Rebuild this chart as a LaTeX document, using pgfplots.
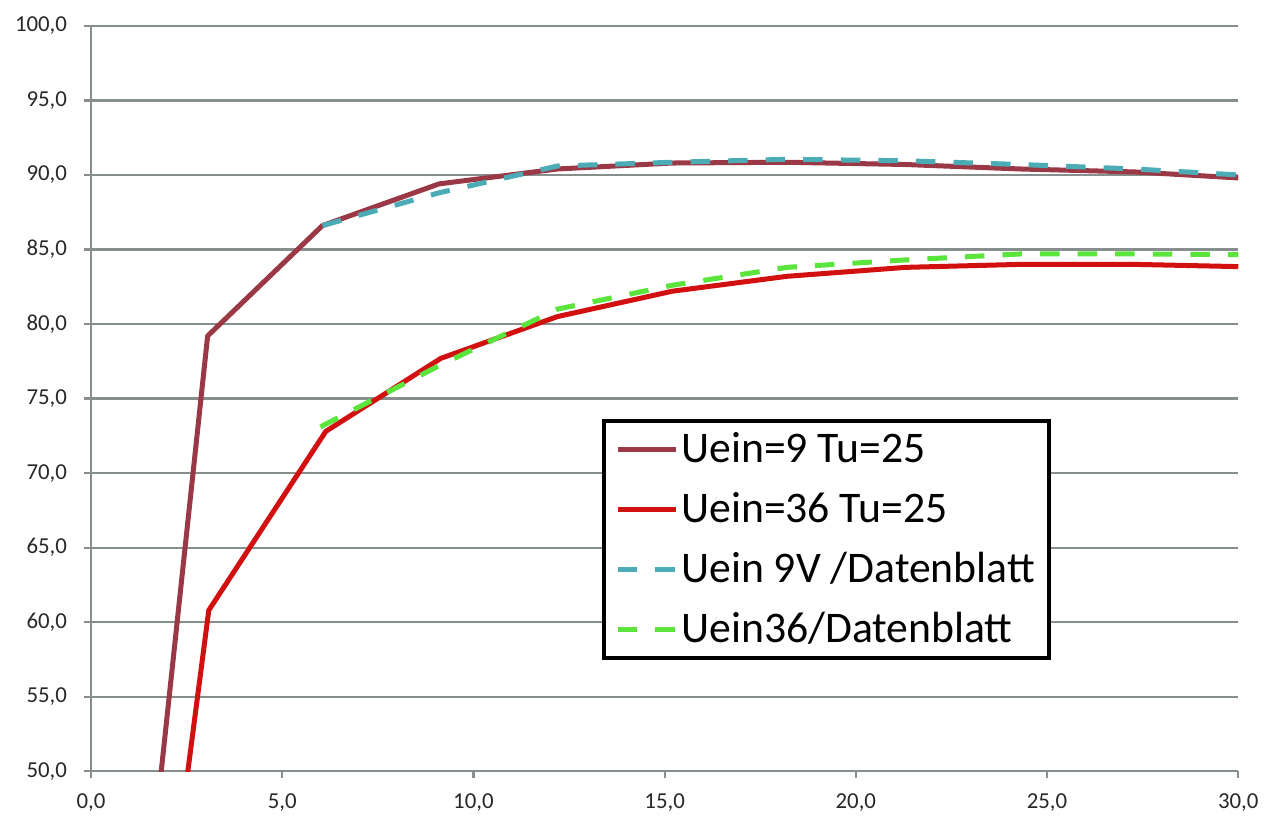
\documentclass[border=0pt]{standalone}
\usepackage{pgfplots}
\pgfplotsset{compat=1.18}
\usepackage{fontspec}
\setmainfont{Carlito}
\definecolor{cbrown}{RGB}{155,56,70}
\definecolor{cred}{RGB}{210,16,16}
\definecolor{cteal}{RGB}{75,172,182}
\definecolor{cgreen}{RGB}{90,228,60}
\definecolor{cgrid}{RGB}{135,142,142}
\definecolor{ctext}{RGB}{40,40,40}
\begin{document}
\begin{tikzpicture}
\useasboundingbox (-32.7pt,-19.7pt) rectangle (427.2pt,277.1pt);
\begin{axis}[
  scale only axis, width=412.2pt, height=267.8pt,
  xmin=0, xmax=30, ymin=50, ymax=100,
  xtick={0,5,...,30}, ytick={50,55,...,100},
  axis x line=bottom, axis y line=left,
  axis line style={-, draw=cgrid, line width=0.8pt},
  ymajorgrids, grid style={cgrid, line width=0.8pt},
  tick align=outside, major tick length=2.6pt,
  tick style={cgrid, line width=0.8pt},
  yticklabel style={font=\fontsize{8.2}{9}\selectfont, text=ctext, xshift=-2.5pt},
  xticklabel style={font=\fontsize{8.2}{9}\selectfont, text=ctext, yshift=-2pt},
  x tick label style={/pgf/number format/.cd, fixed, fixed zerofill, precision=1, use comma, assume math mode=true},
  y tick label style={/pgf/number format/.cd, fixed, fixed zerofill, precision=1, use comma, assume math mode=true},
  legend style={at={(0.4455,0.472)}, anchor=north west, draw=black, line width=1.3pt, fill=white,
    font=\fontsize{15.7}{18}\selectfont, inner xsep=4pt, inner ysep=3pt, row sep=7.25pt,
    nodes={inner sep=1pt}},
  legend cell align=left,
  legend image code/.code={\draw[#1] (0pt,0pt) -- (21pt,0pt);},
]
\addplot[cbrown, line width=1.8pt, line join=round] coordinates {
 (1.5,41.9) (3.05,79.2) (6.05,86.6) (9.1,89.4) (12.2,90.4) (15.2,90.8) (18.2,90.85) (21.3,90.7) (24.3,90.4) (27.3,90.2) (30,89.8)};
\addlegendentry{Uein=9 Tu=25}
\addplot[cred, line width=1.8pt, line join=round] coordinates {
 (2.0,39.5) (3.08,60.8) (6.14,72.8) (9.15,77.7) (12.2,80.5) (15.2,82.2) (18.2,83.2) (21.3,83.8) (24.3,84.0) (27.3,84.0) (30,83.85)};
\addlegendentry{Uein=36 Tu=25}
\addplot[cteal, line width=1.8pt, dash pattern=on 7pt off 6.5pt] coordinates {
 (6.05,86.6) (9.1,88.8) (12.2,90.6) (15.2,90.85) (18.2,91.05) (21.3,90.95) (24.3,90.7) (27.3,90.4) (30,90.0)};
\addlegendentry{Uein 9V /Datenblatt}
\addplot[cgreen, line width=1.8pt, dash pattern=on 7pt off 6.5pt] coordinates {
 (6.0,73.1) (9.1,77.2) (12.2,81.0) (15.2,82.6) (18.2,83.8) (21.3,84.3) (24.3,84.7) (27.3,84.7) (30,84.65)};
\addlegendentry{Uein36/Datenblatt}
\end{axis}
\end{tikzpicture}
\end{document}
